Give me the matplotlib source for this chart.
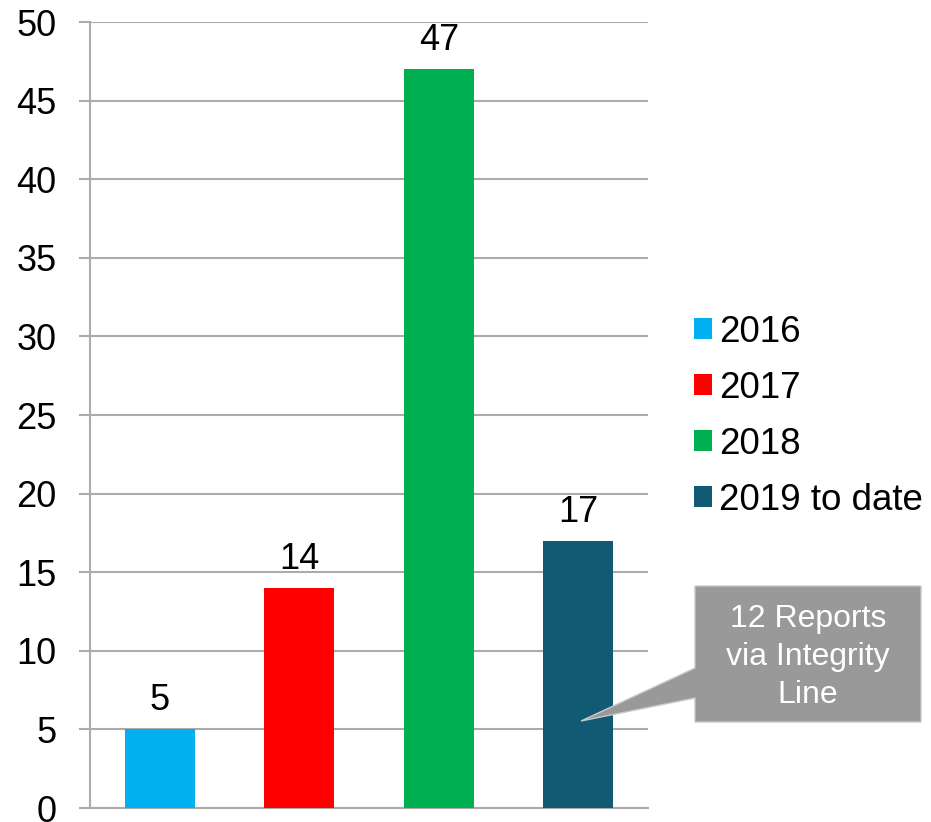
import matplotlib.pyplot as plt
from matplotlib.patches import Polygon

plt.rcParams['font.family'] = ['Liberation Sans', 'DejaVu Sans']

# dữ liệu
years = ['2016', '2017', '2018', '2019 to date']
reports = [5, 14, 47, 17]
colors = ['#00B0F0', '#FF0000', '#00B050', '#105A73']
yticks = [0, 5, 10, 15, 20, 25, 30, 35, 40, 45, 50]
note = '12 Reports\nvia Integrity\nLine'

W, H = 931, 822
fig = plt.figure(figsize=(W / 100, H / 100), dpi=100)
ax = fig.add_axes([90 / W, 14 / H, 558 / W, 786 / H])

x = range(len(years))
bars = ax.bar(x, reports, width=0.5, color=colors, label=years, zorder=3)

for xi, v in zip(x, reports):
    ax.annotate(str(v), (xi, v), xytext=(0, 8), textcoords='offset points',
                ha='center', va='bottom', fontsize=26)

ax.set_xlim(-0.5, 3.5)
ax.set_ylim(0, 50)
ax.set_yticks(yticks)
ax.set_xticks([])
ax.grid(axis='y', color='#ABABAB', linewidth=1.5, zorder=0)
ax.tick_params(axis='y', length=8, width=1.5, color='#ABABAB', pad=16, labelsize=26)
for s in ['top', 'right']:
    ax.spines[s].set_visible(False)
for s in ['left', 'bottom']:
    ax.spines[s].set_color('#ABABAB')
    ax.spines[s].set_linewidth(1.5)

# chú giải
fig.legend(handles=bars.patches, labels=years, loc='upper left',
           bbox_to_anchor=(679 / W, 1 - 300 / H), frameon=False, fontsize=26.5,
           handlelength=0.5, handleheight=0.5, handletextpad=0.2,
           labelspacing=0.57, borderaxespad=0)

# hộp ghi chú
def fp(px, py):
    return (px / W, 1 - py / H)

box = [fp(695, 586), fp(921, 586), fp(921, 722), fp(695, 722), fp(695, 698),
       fp(581, 721), fp(695, 668)]
fig.patches.append(Polygon(box, closed=True, transform=fig.transFigure,
                           facecolor='#999999', edgecolor='#C8C8C8', lw=1, zorder=5))
fig.text(808 / W, 1 - 657 / H, note, ha='center', va='center', color='white',
         fontsize=23, linespacing=1.36, zorder=6)

fig.savefig('out.png', dpi=100)
